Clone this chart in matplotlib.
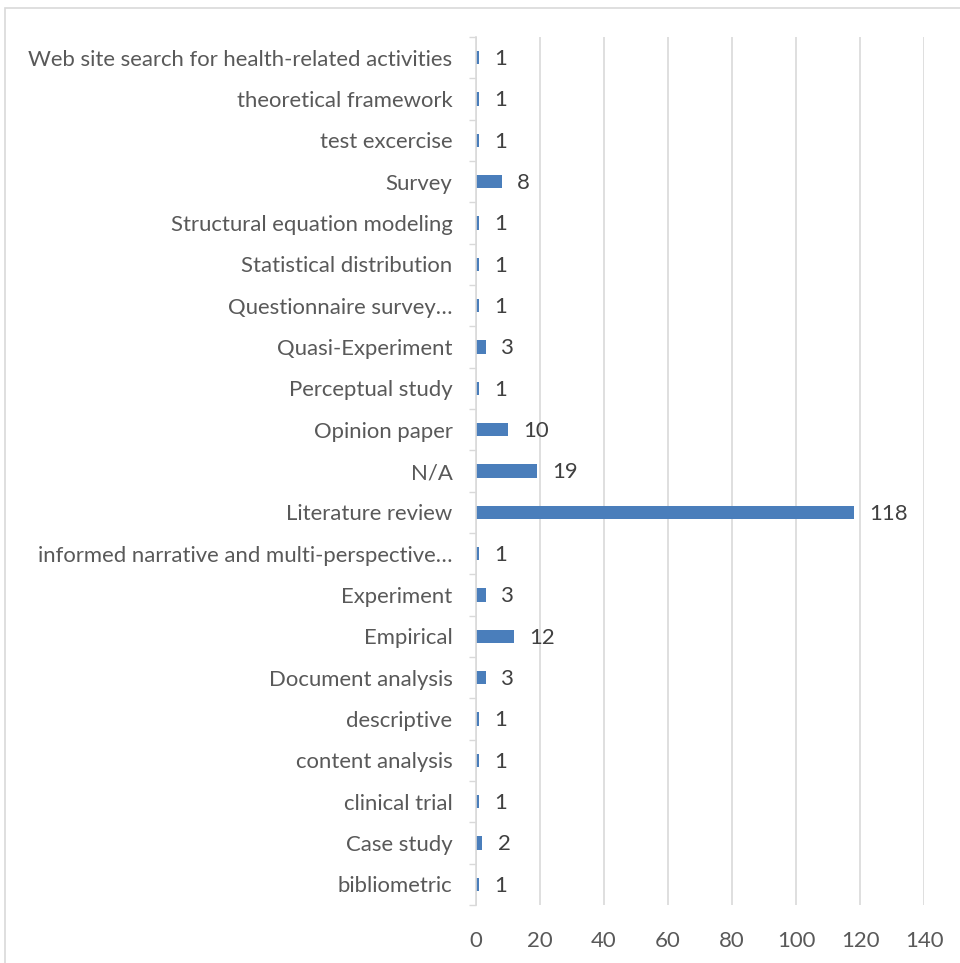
import matplotlib.pyplot as plt
from matplotlib.patches import Rectangle

# categorias de abajo hacia arriba
categorias = [
    "bibliometric", "Case study", "clinical trial", "content analysis",
    "descriptive", "Document analysis", "Empirical", "Experiment",
    "informed narrative and multi-perspective\u2026", "Literature review",
    "N/A", "Opinion paper", "Perceptual study", "Quasi-Experiment",
    "Questionnaire survey\u2026", "Statistical distribution",
    "Structural equation modeling", "Survey", "test excercise",
    "theoretical framework", "Web site search for health-related activities",
]
valores = [1, 2, 1, 1, 1, 3, 12, 3, 1, 118, 19, 10, 1, 3, 1, 1, 1, 8, 1, 1, 1]
ticks_x = [0, 20, 40, 60, 80, 100, 120, 140]

gris_texto = "#595959"
plt.rcParams['font.family'] = ['Lato', 'DejaVu Sans']
tam = 15.9

fig = plt.figure(figsize=(9.6, 9.63), dpi=100)
# borde del grafico
fig.patches.append(Rectangle((5 / 960, -0.01), 1.0, 1 - 8 / 963 + 0.01,
                             transform=fig.transFigure, fill=False,
                             edgecolor="#d9d9d9", linewidth=1.2))

ax = fig.add_axes([476 / 960, 1 - 905 / 963, 448 / 960, 868 / 963])
y = range(len(categorias))
ax.barh(y, valores, height=0.32, color="#4a7ebb")

for i, v in enumerate(valores):
    ax.annotate(str(v), (v, i), xytext=(11, -1), textcoords="offset points",
                va="center", ha="left", fontsize=tam, color="#404040")

ax.set_xlim(0, 140)
ax.set_ylim(-0.5, len(categorias) - 0.5)
ax.set_xticks(ticks_x)
ax.set_yticks(list(y))
ax.set_yticklabels(categorias)
ax.tick_params(axis="x", length=0, pad=19, labelsize=tam, labelcolor=gris_texto)
ax.tick_params(axis="y", length=0, pad=17, labelsize=tam, labelcolor=gris_texto)
# marcas en los limites entre categorias
ax.set_yticks([k - 0.5 for k in range(len(categorias) + 1)], minor=True)
ax.tick_params(axis="y", which="minor", length=5, width=1, color="#d9d9d9")

ax.grid(axis="x", color="#d9d9d9", linewidth=1.2)
ax.set_axisbelow(True)
for s in ["top", "right", "bottom"]:
    ax.spines[s].set_visible(False)
ax.spines["left"].set_color("#d9d9d9")
ax.spines["left"].set_linewidth(1.2)
ax.spines["left"].set_zorder(3)

fig.savefig("out.png", dpi=100)
